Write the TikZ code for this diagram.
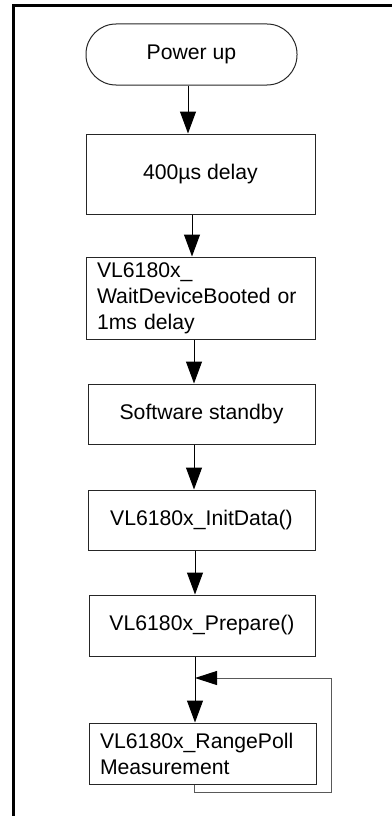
\documentclass[tikz,border=0pt]{standalone}
\usepackage{fontspec}
\setmainfont{Liberation Sans}
\usetikzlibrary{arrows.meta}
\begin{document}
\begin{tikzpicture}[x=1pt,y=-1pt,
  every node/.style={font=\fontsize{21.2}{26}\selectfont, inner sep=0pt, text=black},
  boxc/.style={draw=black!85, line width=1pt, rectangle},
  term/.style={draw=black!85, line width=1pt, rounded corners=30pt, minimum width=211pt, minimum height=61pt},
  arr/.style={draw=black, line width=1pt, -{Triangle[length=22pt,width=16pt]}},
  loopline/.style={draw=black!65, line width=1pt, -{Triangle[length=22pt,width=14pt,color=black]}},
  frame/.style={line width=3pt, draw=black}]
\useasboundingbox (0,0) rectangle (391,816);
\draw[frame] (13.7,820) -- (13.7,5.3) -- (395,5.3);
\node[term] (t) at (191.5,54.5) {Power up};
\node[boxc, minimum width=229pt, minimum height=80pt] (b2) at (200.5,174) {400µs delay};
\node[boxc, minimum width=229pt, minimum height=82pt, text width=207pt, align=left, inner xsep=11pt] (b3) at (200.5,298) {VL6180x\_\\WaitDeviceBooted or\\1ms delay};
\node[boxc, minimum width=227pt, minimum height=60pt] (b4) at (201.5,414) {Software standby};
\node[boxc, minimum width=227pt, minimum height=60pt] (b5) at (201.5,520) {VL6180x\_InitData()};
\node[boxc, minimum width=226pt, minimum height=61pt] (b6) at (202,625.5) {VL6180x\_Prepare()};
\node[boxc, minimum width=227pt, minimum height=61pt, text width=205pt, align=left, inner xsep=11pt] (b7) at (202.5,753.5) {VL6180x\_RangePoll\\Measurement};
\draw[arr] ([xshift=-3.5pt]t.south) -- ([xshift=-3.5pt]t.south |- b2.north);
\draw[arr] ([xshift=-8.5pt]b2.south) -- ([xshift=-8.5pt]b2.south |- b3.north);
\draw[arr] ([xshift=-6.5pt]b3.south) -- ([xshift=-6.5pt]b3.south |- b4.north);
\draw[arr] ([xshift=-7.5pt]b4.south) -- ([xshift=-7.5pt]b4.south |- b5.north);
\draw[arr] ([xshift=-6.5pt]b5.south) -- ([xshift=-6.5pt]b5.south |- b6.north);
\draw[arr] ([xshift=-7pt]b6.south) -- ([xshift=-7pt]b6.south |- b7.north);
\coordinate (loopc) at (331,792);
\coordinate (join) at (195,678);
\draw[loopline] ([xshift=-8.5pt]b7.south) |- (loopc) |- (join);
\end{tikzpicture}
\end{document}
